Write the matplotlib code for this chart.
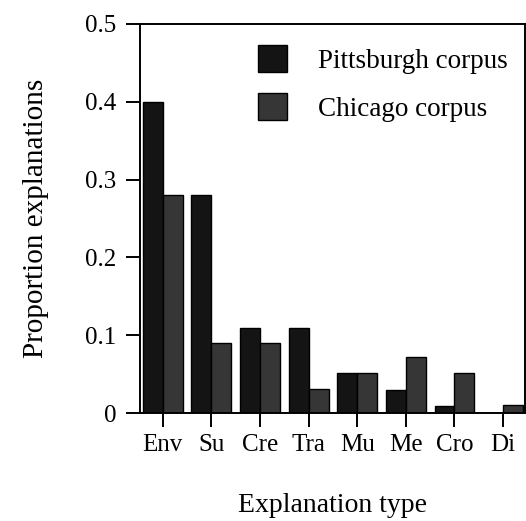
import matplotlib
matplotlib.use("Agg")
import matplotlib.pyplot as plt
import numpy as np

categories = ["Env", "Su", "Cre", "Tra", "Mu", "Me", "Cro", "Di"]
pittsburgh = [0.40, 0.28, 0.11, 0.11, 0.052, 0.03, 0.009, 0.0]
chicago = [0.28, 0.09, 0.09, 0.031, 0.052, 0.072, 0.052, 0.01]
series_names = ["Pittsburgh corpus", "Chicago corpus"]
yticks = [0, 0.1, 0.2, 0.3, 0.4, 0.5]
ytick_labels = ["0", "0.1", "0.2", "0.3", "0.4", "0.5"]

plt.rcParams['font.family'] = ['Liberation Serif', 'DejaVu Serif']
TICK_FS = 18
LABEL_FS = 20
LEG_FS = 19.5

fig = plt.figure(figsize=(5.26, 5.21), dpi=100)
ax = fig.add_axes([0.266, 0.207, 0.732, 0.747])

x = np.arange(len(categories))
w = 0.41
ax.bar(x - w / 2, pittsburgh, w, color="#141414", edgecolor="#000000", linewidth=1.0, label=series_names[0])
ax.bar(x + w / 2, chicago, w, color="#363636", edgecolor="#000000", linewidth=1.0, label=series_names[1])

ax.set_xlim(-0.47, 7.45)
ax.set_ylim(0, 0.5)
ax.set_xticks(x)
ax.set_xticklabels(categories, fontsize=TICK_FS)
ax.set_yticks(yticks)
ax.set_yticklabels(ytick_labels, fontsize=TICK_FS)
ax.tick_params(axis='y', direction='out', length=10, width=1.4, pad=7)
ax.tick_params(axis='x', direction='out', length=10, width=1.4, pad=5)
for s in ax.spines.values():
    s.set_linewidth(1.4)

ax.set_ylabel("Proportion explanations", fontsize=21, labelpad=26)
ax.set_xlabel("Explanation type", fontsize=LABEL_FS, labelpad=27)

ax.legend(frameon=False, loc="upper left", bbox_to_anchor=(0.306, 0.945),
          fontsize=LEG_FS, handlelength=1.07, handleheight=1.15, handletextpad=1.14,
          labelspacing=0.72, borderpad=0, borderaxespad=0)

fig.savefig("out.png", dpi=100)
